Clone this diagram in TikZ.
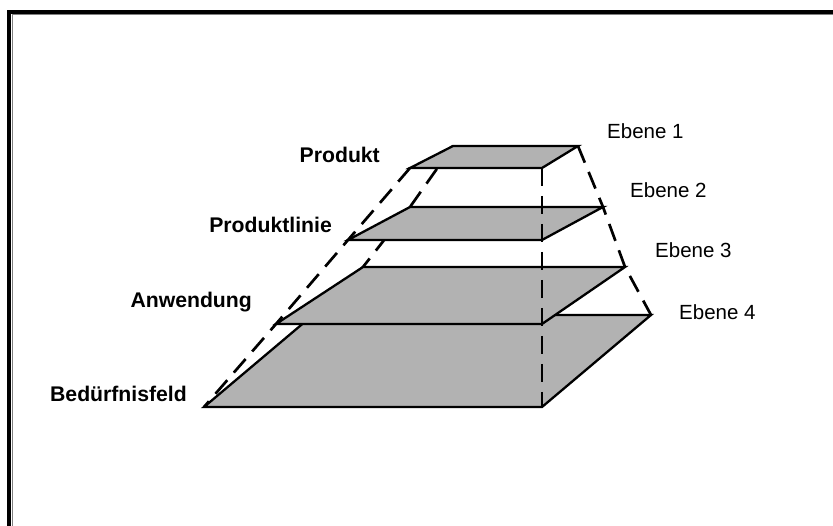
\documentclass[tikz,border=0pt]{standalone}
\usepackage{fontspec}
\setmainfont{Liberation Sans}
\usepackage{xcolor}
\usepackage{tikz}
\usetikzlibrary{
  positioning,
  calc}
\tikzset{every picture/.style={font issue=\fontsize{20.5}{24}},
         font issue/.style={execute at begin picture={#1\selectfont}}
        }
\colorlet{platefill}{black!30}
\tikzset{plate/.style={fill=platefill,draw=black,line width=2.3pt,line join=miter},
         guide/.style={draw=black,line width=2.7pt,dash pattern=on 18pt off 10pt},
         levelname/.style={anchor=base east,inner sep=0pt,font=\fontsize{21.2}{25}\selectfont\bfseries},
         levelno/.style={anchor=base west,inner sep=0pt}
        }

\begin{document}
\begin{tikzpicture}[x=1pt,y=-1pt]
    \useasboundingbox (0,0) rectangle (833,526);

    % frame
    \draw[line width=3.7pt] (8.9,526) -- (8.9,11.8) -- (833,11.8);
    \draw[gray,line width=1pt] (12.2,526) -- (12.2,14.2) -- (833,14.2);

    % corners of the four planes
    \coordinate (fl1) at (410,168);  \coordinate (fr1) at (542,168);
    \coordinate (br1) at (578,146);  \coordinate (bl1) at (453,146);
        \coordinate (fl2) at (348,240);  \coordinate (fr2) at (542,240);
        \coordinate (br2) at (603,207);  \coordinate (bl2) at (410,207);
            \coordinate (fl3) at (276,324);  \coordinate (fr3) at (542,324);
            \coordinate (br3) at (625,267);  \coordinate (bl3) at (363,267);
                \coordinate (fl4) at (204,407);  \coordinate (fr4) at (542,407);
                \coordinate (br4) at (651,315);  \coordinate (bl4) at (313,315);

    \draw[guide] (bl1) -- (bl2) -- (bl3) -- (bl4);

    \filldraw[plate] (fl4) -- (fr4) -- (br4) -- (bl4) -- cycle;
        \filldraw[plate] (fl3) -- (fr3) -- (br3) -- (bl3) -- cycle;
            \filldraw[plate] (fl2) -- (fr2) -- (br2) -- (bl2) -- cycle;
                \filldraw[plate] (fl1) -- (fr1) -- (br1) -- (bl1) -- cycle;

    \draw[guide] (fl1) -- (fl2) -- (fl3) -- (fl4);
    \draw[guide] (br1) -- (br2) -- (br3) -- (br4);
    \draw[guide] (fr1) -- (fr4);

    \node[levelname] (produkt) at (380,163) {Produkt};
    \node[levelname] (linie) at (332,233) {Produktlinie};
    \node[levelname] (anwendung) at (252,308) {Anwendung};
    \node[levelname] (feld) at (187,402) {Bedürfnisfeld};

    \node[levelno] (e1) at (607,139) {Ebene 1};
    \node[levelno] (e2) at (630,198) {Ebene 2};
    \node[levelno] (e3) at (655,258) {Ebene 3};
    \node[levelno] (e4) at (679,320) {Ebene 4};

    \end{tikzpicture}
\end{document}
